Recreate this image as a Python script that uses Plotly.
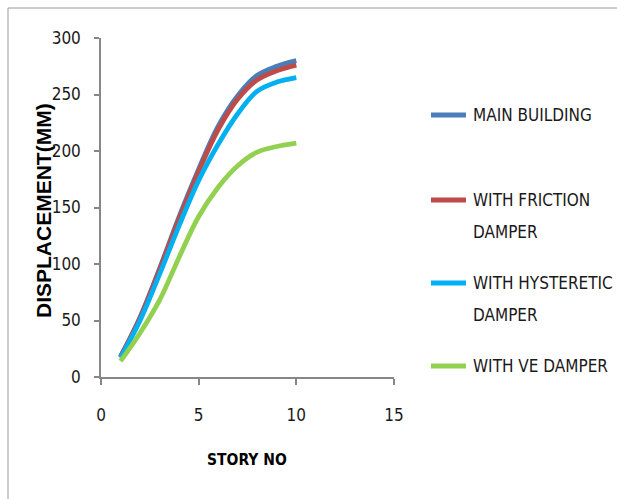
import plotly.graph_objects as go

# Story numbers and peak displacements (mm) per model
stories = [1, 2, 3, 4, 5, 6, 7, 8, 9, 10]
main_building = [18, 53, 96, 142, 184, 222, 249, 267, 275, 280]
friction_damper = [18, 52, 95, 140, 182, 219, 246, 263, 271, 276]
hysteretic_damper = [17, 50, 91, 134, 174, 206, 233, 253, 261, 265]
ve_damper = [14, 39, 68, 106, 142, 168, 187, 199, 204, 207]

series_names = ["MAIN BUILDING", "WITH FRICTION DAMPER", "WITH HYSTERETIC DAMPER", "WITH VE DAMPER"]
legend_lines = [["MAIN BUILDING"], ["WITH FRICTION", "DAMPER"], ["WITH HYSTERETIC", "DAMPER"], ["WITH VE DAMPER"]]
series_values = [main_building, friction_damper, hysteretic_damper, ve_damper]
colors = ["#4A7EBB", "#BE4B48", "#00B0F0", "#92D050"]

x_ticks = [0, 5, 10, 15]
y_ticks = [0, 50, 100, 150, 200, 250, 300]

NARROW = "Liberation Sans Narrow, DejaVu Sans Condensed, sans-serif"
AXIS_GREY = "#878787"

fig = go.Figure()
for name, vals, col in zip(series_names, series_values, colors):
    fig.add_trace(go.Scatter(
        x=stories, y=vals, name=name, mode="lines",
        line=dict(color=col, width=4.8, shape="spline", smoothing=1.0),
        showlegend=False,
    ))

# plot-area geometry in pixels, used to place the key beside it
L, R, T, B = 101, 394, 38, 377
W, H = R - L, B - T

def px_x(px):
    return (px - L) / W

def px_y(py):
    return (B - py) / H

key_rows = [115, 200, 283, 366]
shapes = []
annotations = []
for lines, col, ky in zip(legend_lines, colors, key_rows):
    shapes.append(dict(type="line", xref="paper", yref="paper",
                       x0=px_x(431), x1=px_x(466), y0=px_y(ky), y1=px_y(ky),
                       line=dict(color=col, width=5)))
    for i, txt in enumerate(lines):
        annotations.append(dict(text=txt, xref="paper", yref="paper",
                                x=px_x(471), y=px_y(ky + 32 * i),
                                xanchor="left", yanchor="middle", showarrow=False,
                                font=dict(family=NARROW, size=17, color="#1a1a1a")))

# outer chart frame
shapes.append(dict(type="rect", xref="paper", yref="paper",
                   x0=px_x(8), x1=px_x(640), y0=px_y(8), y1=px_y(520),
                   line=dict(color="#9a9a9a", width=1), fillcolor="rgba(0,0,0,0)",
                   layer="below"))

annotations.append(dict(text="<b>DISPLACEMENT(MM)</b>", xref="paper", yref="paper",
                        x=px_x(43), y=px_y(211), textangle=-90, showarrow=False,
                        xanchor="center", yanchor="middle",
                        font=dict(family="Liberation Sans, Arial, sans-serif", size=21, color="#000")))
annotations.append(dict(text="<b>STORY NO</b>", xref="paper", yref="paper",
                        x=px_x(247), y=px_y(460), showarrow=False,
                        xanchor="center", yanchor="middle",
                        font=dict(family=NARROW, size=15.5, color="#000")))

fig.update_layout(
    width=617, height=499,
    margin=dict(l=L, r=617 - R, t=T, b=499 - B, pad=0),
    paper_bgcolor="white", plot_bgcolor="white",
    shapes=shapes, annotations=annotations,
    showlegend=False,
    font=dict(family=NARROW, size=17, color="#1a1a1a"),
    xaxis=dict(range=[0, 15], tickvals=x_ticks, showgrid=False, zeroline=False,
               showline=True, linecolor=AXIS_GREY, linewidth=1.5,
               ticks="outside", ticklen=6, tickwidth=1.5, tickcolor=AXIS_GREY,
               ticklabelstandoff=16, tickfont=dict(family=NARROW, size=17)),
    yaxis=dict(range=[0, 300], tickvals=y_ticks, showgrid=False, zeroline=False,
               showline=True, linecolor=AXIS_GREY, linewidth=1.5,
               ticks="outside", ticklen=5, tickwidth=1.5, tickcolor=AXIS_GREY,
               ticklabelstandoff=10, tickfont=dict(family=NARROW, size=17)),
)

fig.write_html("out.html")
